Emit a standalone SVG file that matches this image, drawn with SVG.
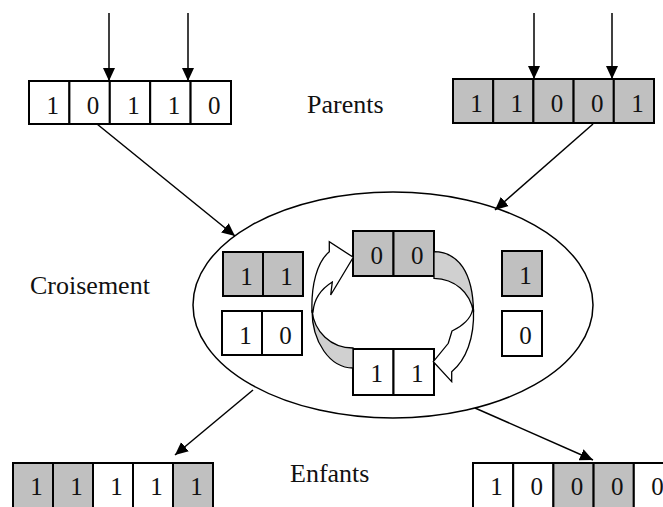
<svg xmlns="http://www.w3.org/2000/svg" width="663" height="507" viewBox="0 0 663 507">
  <style>
    .cell { stroke: #000; stroke-width: 2; }
    .g { fill: #c0c0c0; }
    .w { fill: #fff; }
    .d { font-family: "Liberation Serif", "Times New Roman", serif; font-size: 25px; fill: #111; text-anchor: middle; }
    .lbl { font-family: "Liberation Serif", "Times New Roman", serif; font-size: 26px; fill: #111; }
    .conn { stroke: #000; stroke-width: 1.5; fill: none; }
    .band { stroke: #000; stroke-width: 1.3; stroke-linejoin: miter; }
  </style>
  <defs>
    <marker id="head" markerUnits="userSpaceOnUse" markerWidth="14" markerHeight="14" viewBox="0 0 14 14" refX="13" refY="7" orient="auto">
      <path d="M0,1 L13,7 L0,13 Z" fill="#000"/>
    </marker>
  </defs>

  <!-- parent chromosome A -->
  <g id="parent-a">
    <rect class="cell w" x="29" y="81" width="40.4" height="43"/>
    <rect class="cell w" x="69.4" y="81" width="40.4" height="43"/>
    <rect class="cell w" x="109.8" y="81" width="40.4" height="43"/>
    <rect class="cell w" x="150.2" y="81" width="40.4" height="43"/>
    <rect class="cell w" x="190.6" y="81" width="40.4" height="43"/>
    <text class="d" x="52.7" y="114">1</text>
    <text class="d" x="93.1" y="114">0</text>
    <text class="d" x="133.5" y="114">1</text>
    <text class="d" x="173.9" y="114">1</text>
    <text class="d" x="214.3" y="114">0</text>
  </g>

  <!-- parent chromosome B -->
  <g id="parent-b">
    <rect class="cell g" x="453" y="79" width="40.2" height="44"/>
    <rect class="cell g" x="493.2" y="79" width="40.2" height="44"/>
    <rect class="cell g" x="533.4" y="79" width="40.2" height="44"/>
    <rect class="cell g" x="573.6" y="79" width="40.2" height="44"/>
    <rect class="cell g" x="613.8" y="79" width="40.2" height="44"/>
    <text class="d" x="476.6" y="112">1</text>
    <text class="d" x="516.8" y="112">1</text>
    <text class="d" x="557" y="112">0</text>
    <text class="d" x="597.2" y="112">0</text>
    <text class="d" x="637.4" y="112">1</text>
  </g>

  <g id="label-parents"><text class="lbl" x="307" y="113">Parents</text></g>
  <g id="label-croisement"><text class="lbl" x="30" y="294">Croisement</text></g>
  <g id="label-enfants"><text class="lbl" x="290" y="482">Enfants</text></g>

  <!-- crossover operator -->
  <g id="crossover">
    <ellipse cx="393" cy="305" rx="200" ry="113" fill="none" stroke="#000" stroke-width="1.5"/>
  </g>

  <g id="head-a">
    <rect class="cell g" x="223" y="252" width="40" height="44"/>
    <rect class="cell g" x="263" y="252" width="40" height="44"/>
    <text class="d" x="246.5" y="284.5">1</text>
    <text class="d" x="286.5" y="284.5">1</text>
  </g>
  <g id="head-b">
    <rect class="cell w" x="222" y="311" width="40" height="44"/>
    <rect class="cell w" x="262" y="311" width="40" height="44"/>
    <text class="d" x="245.5" y="343.5">1</text>
    <text class="d" x="285.5" y="343.5">0</text>
  </g>
  <g id="swap-top">
    <rect class="cell g" x="353" y="231" width="40.5" height="45"/>
    <rect class="cell g" x="393.5" y="231" width="40.5" height="45"/>
    <text class="d" x="376.8" y="263.5">0</text>
    <text class="d" x="417.3" y="263.5">0</text>
  </g>
  <g id="swap-bottom">
    <rect class="cell w" x="353" y="349" width="40.5" height="46"/>
    <rect class="cell w" x="393.5" y="349" width="40.5" height="46"/>
    <text class="d" x="376.8" y="382">1</text>
    <text class="d" x="417.3" y="382">1</text>
  </g>
  <g id="tail-a">
    <rect class="cell g" x="502" y="251" width="40" height="45"/>
    <text class="d" x="525.5" y="284">1</text>
  </g>
  <g id="tail-b">
    <rect class="cell w" x="502" y="311" width="40" height="45"/>
    <text class="d" x="525.5" y="344">0</text>
  </g>

  <!-- curved swap arrows -->
  <g id="swap-arrow-left">
    <path class="band" fill="#d0d0d0" d="M353,348 C331,348 314,332 312,310 C312,342 330,368 353,368 Z"/>
    <path class="band" fill="#fff" d="M312,312 C311,285 317,262 329.3,251.7 L329.3,241.7 L353.3,257.3 L330.7,295 L332.3,282 C321,289 314,299 313,312 Z"/>
  </g>
  <g id="swap-arrow-right">
    <path class="band" fill="#d0d0d0" d="M434,251.7 C458,252 473,272 473.5,312 C470,292 455,279 434,278.3 Z"/>
    <path class="band" fill="#fff" d="M473.5,310 C474.5,338 466,360 451.7,371.7 L451.7,381.7 L433.3,361.7 L448.3,343.3 L452,331 C463,326 471,318 472.5,310 Z"/>
  </g>

  <!-- offspring chromosomes -->
  <g id="child-a">
    <rect class="cell g" x="13" y="463" width="40" height="50"/>
    <rect class="cell g" x="53" y="463" width="40" height="50"/>
    <rect class="cell w" x="93" y="463" width="40" height="50"/>
    <rect class="cell w" x="133" y="463" width="40" height="50"/>
    <rect class="cell g" x="173" y="463" width="40" height="50"/>
    <text class="d" x="36.5" y="495">1</text>
    <text class="d" x="76.5" y="495">1</text>
    <text class="d" x="116.5" y="495">1</text>
    <text class="d" x="156.5" y="495">1</text>
    <text class="d" x="196.5" y="495">1</text>
  </g>
  <g id="child-b">
    <rect class="cell w" x="473" y="463" width="40.2" height="50"/>
    <rect class="cell w" x="513.2" y="463" width="40.2" height="50"/>
    <rect class="cell g" x="553.4" y="463" width="40.2" height="50"/>
    <rect class="cell g" x="593.6" y="463" width="40.2" height="50"/>
    <rect class="cell w" x="633.8" y="463" width="40.2" height="50"/>
    <text class="d" x="496.6" y="495">1</text>
    <text class="d" x="536.8" y="495">0</text>
    <text class="d" x="577" y="495">0</text>
    <text class="d" x="617.2" y="495">0</text>
    <text class="d" x="657.4" y="495">0</text>
  </g>

  <!-- connectors -->
  <g id="connectors">
    <line class="conn" x1="109" y1="13" x2="109" y2="81" marker-end="url(#head)"/>
    <line class="conn" x1="188" y1="13" x2="188" y2="81" marker-end="url(#head)"/>
    <line class="conn" x1="534" y1="13" x2="534" y2="79" marker-end="url(#head)"/>
    <line class="conn" x1="612" y1="13" x2="612" y2="79" marker-end="url(#head)"/>
    <line class="conn" x1="97" y1="124" x2="235" y2="236" marker-end="url(#head)"/>
    <line class="conn" x1="593" y1="124" x2="495" y2="210" marker-end="url(#head)"/>
    <line class="conn" x1="253" y1="390" x2="175" y2="455" marker-end="url(#head)"/>
    <line class="conn" x1="475" y1="408" x2="593" y2="460" marker-end="url(#head)"/>
  </g>
</svg>
